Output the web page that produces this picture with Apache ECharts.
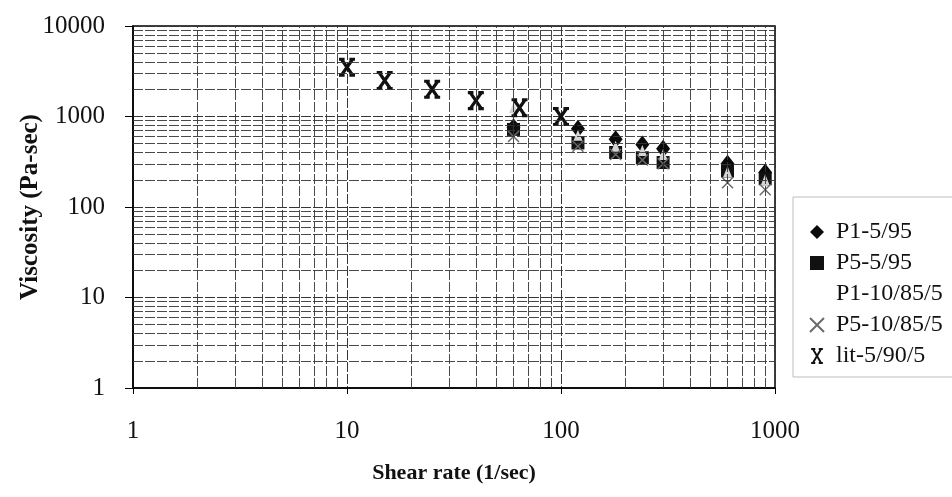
<!DOCTYPE html>
<html>
<head>
<meta charset="utf-8">
<script src="https://cdn.jsdelivr.net/npm/echarts@6/dist/echarts.min.js"></script>
<style>
  html, body { margin: 0; padding: 0; background: #fff; }
  #chart { width: 952px; height: 497px; }
</style>
</head>
<body>
<div id="chart"></div>
<script>
// Shear rates (1/sec) for the blend measurements
const shearBlend = [60, 120, 180, 240, 300, 600, 900];
// Viscosity (Pa-sec) per blend
const p1_5_95    = [760, 730, 560, 490, 440, 300, 240];
const p5_5_95    = [720, 510, 400, 350, 310, 250, 205];
const p1_10_85_5 = [1250, 620, 470, 420, 380, 245, 200];
const p5_10_85_5 = [600, 470, 380, 330, 300, 185, 155];
// Literature data
const shearLit   = [10, 15, 25, 40, 64, 100];
const lit_5_90_5 = [3500, 2500, 2000, 1500, 1250, 1000];

const seriesNames = ['P1-5/95', 'P5-5/95', 'P1-10/85/5', 'P5-10/85/5', 'lit-5/90/5'];

const FONT = 'Liberation Serif';
const GRID_COLOR = '#353535';
const GRID_DASH = [10, 2];

function pairs(xs, ys) { return xs.map((x, i) => [x, ys[i]]); }

// Minor log grid lines at 2..9 of each decade
const minorX = [];
[1, 10, 100].forEach(d => { for (let k = 2; k <= 9; k++) minorX.push(d * k); });
const minorY = [];
[1, 10, 100, 1000].forEach(d => { for (let k = 2; k <= 9; k++) minorY.push(d * k); });

const crossPath = 'path://M0,0L10,10M10,0L0,10';
const starPath = 'path://M0,0L3.5,0M6.5,0L10,0M0,12L3.5,12M6.5,12L10,12M1.5,0L8.5,12M8.5,0L1.5,12';

const chart = echarts.init(document.getElementById('chart'), null, { renderer: 'canvas' });

chart.setOption({
  animation: false,
  backgroundColor: '#fff',
  textStyle: { fontFamily: FONT },
  grid: {
    left: 133, right: 177, top: 26, bottom: 109,
    show: true, borderColor: '#000', borderWidth: 1.5, backgroundColor: 'transparent'
  },
  legend: {
    orient: 'vertical',
    left: 793, top: 197,
    padding: [23, 40, 9, 16],
    itemGap: 7,
    itemWidth: 14, itemHeight: 14,
    borderColor: '#bdbdbd', borderWidth: 1,
    backgroundColor: '#fff',
    textStyle: { fontFamily: FONT, fontSize: 24, lineHeight: 24, color: '#111', padding: [0, 0, 0, 7] },
    data: [
      { name: 'P1-5/95' },
      { name: 'P5-5/95' },
      { name: 'P1-10/85/5', itemStyle: { opacity: 0 } },
      { name: 'P5-10/85/5' },
      { name: 'lit-5/90/5' }
    ]
  },
  xAxis: {
    type: 'log', logBase: 10, min: 1, max: 1000,
    name: 'Shear rate (1/sec)',
    nameLocation: 'middle', nameGap: 74, nameMoveOverlap: false,
    nameTextStyle: { fontFamily: FONT, fontSize: 22, fontWeight: 'bold', color: '#111' },
    axisLine: { lineStyle: { color: '#000', width: 1.5 } },
    axisTick: { show: true, length: 6, lineStyle: { color: '#000' } },
    axisLabel: { fontFamily: FONT, fontSize: 25, color: '#111', margin: 31, formatter: v => String(v) },
    splitLine: { show: true, lineStyle: { color: GRID_COLOR, width: 1, type: GRID_DASH } }
  },
  yAxis: {
    type: 'log', logBase: 10, min: 1, max: 10000,
    name: 'Viscosity (Pa-sec)',
    nameLocation: 'middle', nameGap: 90, nameMoveOverlap: false,
    nameTextStyle: { fontFamily: FONT, fontSize: 25, fontWeight: 'bold', color: '#111' },
    axisLine: { lineStyle: { color: '#000', width: 1.5 } },
    axisTick: { show: true, length: 8, lineStyle: { color: '#000' } },
    axisLabel: { fontFamily: FONT, fontSize: 25, color: '#111', margin: 28, formatter: v => String(v) },
    splitLine: { show: true, lineStyle: { color: GRID_COLOR, width: 1, type: GRID_DASH } }
  },
  series: [
    {
      // carries the minor grid lines
      type: 'line', data: [], silent: true,
      markLine: {
        silent: true, symbol: 'none', label: { show: false },
        lineStyle: { color: GRID_COLOR, width: 1, type: GRID_DASH, opacity: 0.9 },
        data: minorX.map(v => ({ xAxis: v })).concat(minorY.map(v => ({ yAxis: v })))
      }
    },
    {
      name: seriesNames[0], type: 'scatter', data: pairs(shearBlend, p1_5_95),
      symbol: 'diamond', symbolSize: [14, 18],
      itemStyle: { color: '#0a0a0a', opacity: 1 }
    },
    {
      name: seriesNames[1], type: 'scatter', data: pairs(shearBlend, p5_5_95),
      symbol: 'rect', symbolSize: 13,
      itemStyle: { color: '#111', opacity: 1 }
    },
    {
      name: seriesNames[2], type: 'scatter', data: pairs(shearBlend, p1_10_85_5),
      symbol: 'triangle', symbolSize: [9, 11],
      itemStyle: { color: '#d4d4d4', opacity: 1 }
    },
    {
      name: seriesNames[3], type: 'scatter', data: pairs(shearBlend, p5_10_85_5),
      symbol: crossPath, symbolSize: 11,
      itemStyle: { color: 'transparent', borderColor: '#6a6a6a', borderWidth: 1.5, opacity: 1 }
    },
    {
      name: seriesNames[4], type: 'scatter', data: pairs(shearLit, lit_5_90_5),
      symbol: starPath, symbolSize: [16, 16],
      itemStyle: { color: 'transparent', borderColor: '#111', borderWidth: 3.2, opacity: 1 }
    }
  ]
});
</script>
</body>
</html>
